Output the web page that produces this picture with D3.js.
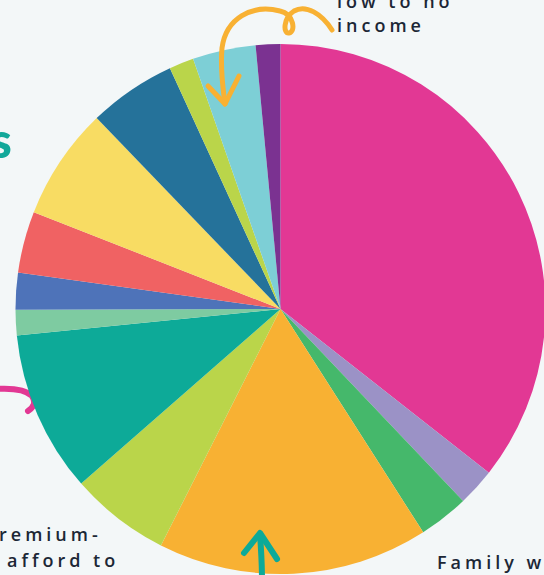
<!DOCTYPE html>
<html>
<head>
<meta charset="utf-8">
<script src="https://cdn.jsdelivr.net/npm/d3@7"></script>
<style>
	html, body { margin: 0; padding: 0; background: #f3f7f8; overflow: hidden; }
	svg { display: block; }
	.note { font-family: 'Open Sans', sans-serif; font-size: 18px; font-weight: 600; letter-spacing: 4px; fill: #1c2736; }
</style>
</head>
<body>
<svg id="chart" width="544" height="575"></svg>
<script>
// slices, clockwise from 12 o'clock
let categories = [
	'Segment A', 'Segment B', 'Segment C', 'Segment D', 'Segment E', 'Segment F', 'Segment G',
	'Segment H', 'Segment I', 'Segment J', 'Segment K', 'Segment L', 'Segment M', 'Low to no income'
]
let values = [35.6, 2.3, 3.05, 16.5, 6.1, 9.85, 1.55, 2.25, 3.75, 6.85, 5.35, 1.5, 3.85, 1.5]
let colors = [
	'#e23894', '#9b92c6', '#45b86b', '#f8b133', '#bad54a', '#0daa98', '#7ecba1',
	'#4e73b9', '#f06263', '#f8dc63', '#25729a', '#bad54a', '#7dcfd6', '#7b3291'
]

let config = {
	cx: 280.5,
	cy: 309,
	radius: 265,
}

let svg = d3.select('#chart')

function drawDecorBehind() {
	// pink swoosh on left, partly under the pie
	svg.append('path')
		.attr('d', 'M-4,389 C12,388 26,390 32,396 C36,402 34,407 28,411')
		.attr('fill', 'none')
		.attr('stroke', '#e23894')
		.attr('stroke-width', 6)
		.attr('stroke-linecap', 'round')
}

function drawPie() {
	let pie = d3.pie().sort(null).value(d => d)
	let arc = d3.arc().innerRadius(0).outerRadius(config.radius)

	let g = svg.append('g')
		.attr('transform', `translate(${config.cx}, ${config.cy})`)

	g.selectAll('path')
		.data(pie(values))
		.enter()
		.append('path')
		.attr('d', arc)
		.attr('fill', (d, i) => colors[i])
}

function drawDecorFront() {
	// title letter peeking in on the left
	svg.append('text')
		.attr('x', 12)
		.attr('y', 158)
		.attr('text-anchor', 'end')
		.attr('font-family', 'Lato, sans-serif')
		.attr('font-weight', 900)
		.attr('font-size', 50)
		.attr('fill', '#12a89a')
		.text('s')

	// orange curly arrow
	svg.append('path')
		.attr('d', 'M332,30 C322,14 306,4 294,11 C283,18 283,34 289,33 C296,32 294,14 280,11 C252,4 226,18 222,48 C220,70 223,88 225,104')
		.attr('fill', 'none')
		.attr('stroke', '#f8b133')
		.attr('stroke-width', 5)
		.attr('stroke-linecap', 'round')
		.attr('stroke-linejoin', 'round')
	svg.append('path')
		.attr('d', 'M208,86 L225,104 L239,76')
		.attr('fill', 'none')
		.attr('stroke', '#f8b133')
		.attr('stroke-width', 5)
		.attr('stroke-linecap', 'round')
		.attr('stroke-linejoin', 'round')

	// teal arrow at the bottom
	svg.append('path')
		.attr('d', 'M262,580 C262,565 261,548 260,534')
		.attr('fill', 'none')
		.attr('stroke', '#0daa98')
		.attr('stroke-width', 6)
		.attr('stroke-linecap', 'round')
	svg.append('path')
		.attr('d', 'M244,553 L260,533 L277,559')
		.attr('fill', 'none')
		.attr('stroke', '#0daa98')
		.attr('stroke-width', 6)
		.attr('stroke-linecap', 'round')
		.attr('stroke-linejoin', 'round')

	let notes = [
		{ text: 'low to no', x: 337, y: 8 },
		{ text: 'income', x: 337, y: 32 },
		{ text: 'remium-', x: -1, y: 541 },
		{ text: 'afford to', x: 7, y: 567 },
		{ text: 'Family w', x: 437, y: 569 },
	]
	svg.selectAll('text.note')
		.data(notes)
		.enter()
		.append('text')
		.attr('class', 'note')
		.attr('x', d => d.x)
		.attr('y', d => d.y)
		.text(d => d.text)
}

drawDecorBehind()
drawPie()
drawDecorFront()
</script>
</body>
</html>
